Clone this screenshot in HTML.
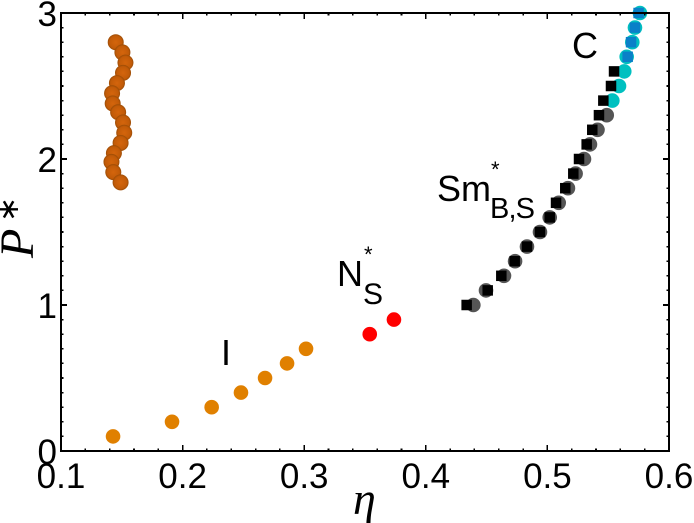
<!DOCTYPE html>
<html>
<head>
<meta charset="utf-8">
<title>Phase diagram</title>
<style>
html,body{margin:0;padding:0;background:#fff;width:694px;height:523px;overflow:hidden}
svg{display:block}
text{font-family:"Liberation Sans",sans-serif;fill:#000}
.serif{font-family:"Liberation Serif",serif;font-style:italic}
</style>
</head>
<body>
<svg id="chart" width="694" height="523" viewBox="0 0 694 523" xmlns="http://www.w3.org/2000/svg">
<defs>
<radialGradient id="ball" cx="50%" cy="50%" r="50%">
<stop offset="0%" stop-color="#d4650c"/>
<stop offset="78%" stop-color="#c25b08"/>
<stop offset="100%" stop-color="#9a4b05"/>
</radialGradient>
</defs>
<g id="marks"></g>
<g id="axes"></g>
<text class="serif" x="353" y="514" font-size="46">η</text>
<g transform="translate(33,258) rotate(-90)">
<text class="serif" x="0" y="0" font-size="48">P</text>
<text x="36" y="-15" font-size="30" style="font-family:'DejaVu Sans',sans-serif">∗</text>
</g>
<text x="221" y="365" font-size="36">I</text>
<g>
<text x="337" y="286" font-size="36">N</text>
<text x="363" y="304" font-size="30">S</text>
<text x="364" y="262" font-size="22">*</text>
</g>
<g>
<text x="437" y="201" font-size="36">Sm</text>
<text x="490" y="218" font-size="29" textLength="45">B,S</text>
<text x="491" y="177" font-size="22">*</text>
</g>
<text x="572" y="58" font-size="36">C</text>
</svg>
<script>
var xTickLabels = ["0.1", "0.2", "0.3", "0.4", "0.5", "0.6"];
var yTickLabels = ["0", "1", "2", "3"];

var brownEta = [0.145, 0.1505, 0.153, 0.151, 0.146, 0.142, 0.1425, 0.147, 0.151, 0.152, 0.149, 0.1435, 0.1415, 0.143, 0.149];
var brownP = [2.80, 2.73, 2.66, 2.59, 2.52, 2.45, 2.38, 2.32, 2.25, 2.18, 2.11, 2.04, 1.98, 1.91, 1.84];

var orangeEta = [0.1428, 0.1913, 0.2239, 0.248, 0.2678, 0.2859, 0.3015];
var orangeP = [0.1, 0.2, 0.3, 0.4, 0.5, 0.6, 0.7];

var redEta = [0.3539, 0.3738];
var redP = [0.8, 0.9];

var grayEta = [0.4391, 0.4495, 0.4643, 0.4734, 0.4832, 0.4939, 0.5019, 0.5093, 0.5169, 0.5232, 0.5301, 0.535, 0.5412, 0.5488];
var grayP = [1.0, 1.1, 1.2, 1.3, 1.4, 1.5, 1.6, 1.7, 1.8, 1.9, 2.0, 2.1, 2.2, 2.3];

var tealEta = [0.5534, 0.5589, 0.5632, 0.5652, 0.5698, 0.572, 0.5761];
var tealP = [2.4, 2.5, 2.6, 2.7, 2.8, 2.9, 3.0];

var blackEta = [0.4336, 0.4509, 0.4621, 0.4731, 0.4832, 0.4939, 0.5019, 0.5071, 0.5147, 0.5213, 0.526, 0.5323, 0.5369, 0.5424, 0.546, 0.5523, 0.5548];
var blackP = [1.0, 1.1, 1.2, 1.3, 1.4, 1.5, 1.6, 1.7, 1.8, 1.9, 2.0, 2.1, 2.2, 2.3, 2.4, 2.5, 2.6];

var blueEta = [0.566, 0.5688, 0.572, 0.575];
var blueP = [2.7, 2.8, 2.9, 3.0];

var NS = "http://www.w3.org/2000/svg";
var marks = document.getElementById("marks");
var axes = document.getElementById("axes");

function xScale(v) { return 61 + (v - 0.1) * 1216; }
function yScale(v) { return 451 - v * 146; }

function drawCircles(etas, ps, radius, fill, name) {
  for (var i = 0; i < etas.length; i++) {
    var c = document.createElementNS(NS, "circle");
    c.setAttribute("cx", xScale(etas[i]));
    c.setAttribute("cy", yScale(ps[i]));
    c.setAttribute("r", radius);
    c.setAttribute("fill", fill);
    
    
    marks.appendChild(c);
  }
}

function drawSquares(etas, ps, size, fill, name) {
  for (var i = 0; i < etas.length; i++) {
    var r = document.createElementNS(NS, "rect");
    r.setAttribute("x", xScale(etas[i]) - size / 2);
    r.setAttribute("y", yScale(ps[i]) - size / 2);
    r.setAttribute("width", size);
    r.setAttribute("height", size);
    r.setAttribute("fill", fill);
    
    
    marks.appendChild(r);
  }
}

function drawLine(x1, y1, x2, y2, width, name) {
  var l = document.createElementNS(NS, "line");
  l.setAttribute("x1", x1);
  l.setAttribute("y1", y1);
  l.setAttribute("x2", x2);
  l.setAttribute("y2", y2);
  l.setAttribute("stroke", "#000");
  l.setAttribute("stroke-width", width);
  l.setAttribute("shape-rendering", "crispEdges");
  
  
  axes.appendChild(l);
}

function drawLabel(x, y, anchor, content, name) {
  var t = document.createElementNS(NS, "text");
  t.setAttribute("x", x);
  t.setAttribute("y", y);
  t.setAttribute("text-anchor", anchor);
  t.setAttribute("font-size", "35");
  t.textContent = content;
  
  
  axes.appendChild(t);
}

drawCircles(orangeEta, orangeP, 7.3, "#e08000", "isotropic-point");
drawCircles(redEta, redP, 7.3, "#ff0000", "nematic-point");
drawCircles(grayEta, grayP, 7.3, "#555555", "smectic-point");
drawCircles(tealEta, tealP, 7.3, "#00c0c0", "transition-point");
drawSquares(blackEta, blackP, 10.5, "#000000", "square-point");
drawSquares(blueEta, blueP, 10.5, "#0a80c8", "crystal-square-point");
drawCircles(brownEta, brownP, 8, "url(#ball)", "low-density-point");

drawLine(61, 12, 61, 452, 2, "y-axis-left");
drawLine(669, 12, 669, 452, 2, "y-axis-right");
drawLine(60, 451, 670, 451, 2, "x-axis-bottom");
drawLine(60, 13, 670, 13, 2, "x-axis-top");

for (var i = 1; i < 25; i++) {
  var tickEta = 0.1 + i * 0.02;
  var tickLen = i % 5 === 0 ? 6 : 2.5;
  drawLine(xScale(tickEta), 451, xScale(tickEta), 451 - tickLen, 1.6, "x-tick-bottom");
  drawLine(xScale(tickEta), 13, xScale(tickEta), 13 + tickLen, 1.6, "x-tick-top");
}
for (var j = 1; j < 30; j++) {
  var tickP = j * 0.1;
  var len = j % 10 === 0 ? 6 : 2.5;
  drawLine(61, yScale(tickP), 61 + len, yScale(tickP), 1.6, "y-tick-left");
  drawLine(669, yScale(tickP), 669 - len, yScale(tickP), 1.6, "y-tick-right");
}

for (var a = 0; a < xTickLabels.length; a++) {
  drawLabel(xScale(parseFloat(xTickLabels[a])), 488, "middle", xTickLabels[a], "x-tick-label");
}
for (var b = 0; b < yTickLabels.length; b++) {
  drawLabel(57, yScale(parseFloat(yTickLabels[b])) + 13, "end", yTickLabels[b], "y-tick-label");
}
</script>
</body>
</html>
